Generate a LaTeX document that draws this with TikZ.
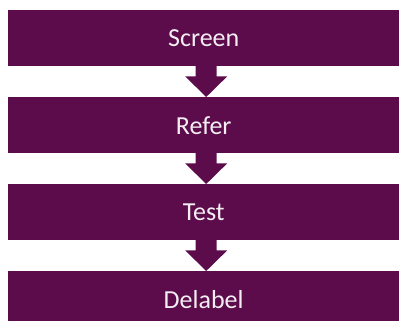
\documentclass[tikz,border=0pt]{standalone}
\usepackage{fontspec}
\setmainfont{Carlito}
\usetikzlibrary{calc}
\definecolor{plum}{HTML}{5C0C4B}
\definecolor{paper}{HTML}{F4EEF2}
\tikzset{
  bar/.style={fill=plum, draw=none, text=paper, font=\fontsize{26}{30}\selectfont,
    minimum width=391pt, minimum height=56pt, inner sep=0pt, anchor=north west},
  flow/.style={fill=plum, draw=none}
}
\begin{document}
\begin{tikzpicture}[x=1pt,y=1pt]
  \useasboundingbox (0,0) rectangle (399,-321);
  \begin{scope}
    \clip (0,0) rectangle (399,-321);
    \node[bar] (screen)  at (8,-10)  {Screen};
    \node[bar] (refer)   at (8,-97)  {Refer};
    \node[bar] (test)    at (8,-184) {Test};
    \node[bar] (delabel) at (8,-271) {Delabel};
    % block arrows between consecutive stages
    \foreach \a/\b in {screen/refer, refer/test, test/delabel}{
      \coordinate (s) at ($(\a.south)+(2.5,0)$);
      \coordinate (t) at ($(\b.north)+(2.5,0)$);
      \fill[flow] ($(s)+(-10.5,0.5)$) -- ($(s)+(10.5,0.5)$) -- ($(s)+(10.5,-10)$)
        -- ($(s)+(21,-10)$) -- (t) -- ($(s)+(-21,-10)$) -- ($(s)+(-10.5,-10)$) -- cycle;
    }
  \end{scope}
\end{tikzpicture}
\end{document}
